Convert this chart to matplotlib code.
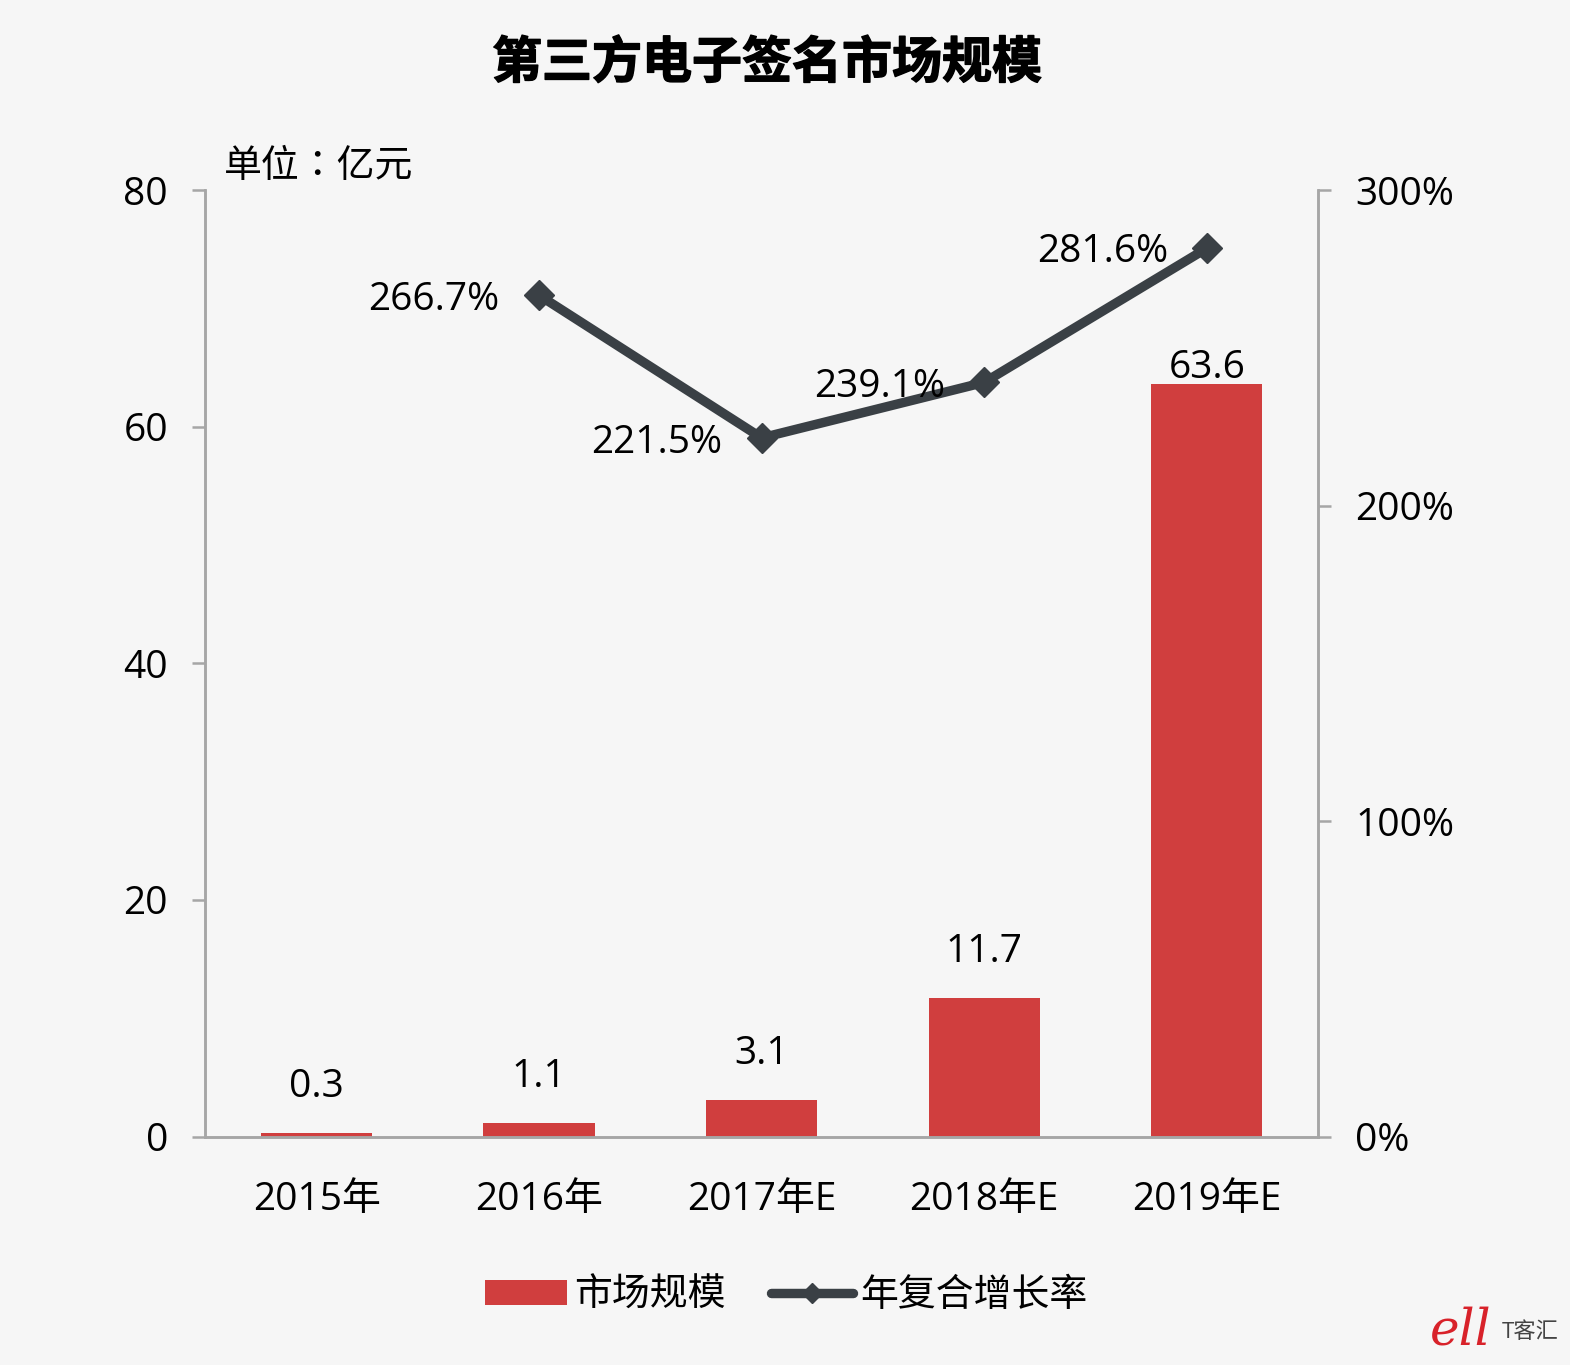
# -*- coding: utf-8 -*-
import matplotlib
matplotlib.use("Agg")
import matplotlib.pyplot as plt
import matplotlib.patheffects as pe
from matplotlib.lines import Line2D
from matplotlib.patches import Patch

plt.rcParams["font.family"] = ["Open Sans", "Noto Sans CJK SC", "DejaVu Sans"]

years = ["2015年", "2016年", "2017年E", "2018年E", "2019年E"]
market_size = [0.3, 1.1, 3.1, 11.7, 63.6]
growth = [None, 266.7, 221.5, 239.1, 281.6]
left_ticks = [0, 20, 40, 60, 80]
right_ticks = [0, 100, 200, 300]

RED = "#d03e3e"
DARK = "#3a4045"
GREY = "#a6a6a6"
BG = "#f6f6f6"
W, H = 1570, 1365
PX = 0.72  # 1 px in points at dpi=100
FS = 28

fig = plt.figure(figsize=(W / 100, H / 100), dpi=100, facecolor=BG)
ax = fig.add_axes([205.3 / W, 1 - 1136.5 / H, (1318 - 205.3) / W, (1136.5 - 190.3) / H])
ax.set_facecolor(BG)
xs = list(range(len(years)))
ax.bar(xs, market_size, width=0.5, color=RED, zorder=2)
ax.set_xlim(-0.5, 4.5)
ax.set_ylim(0, 80)
ax.set_yticks(left_ticks)
ax.set_xticks(xs)
ax.set_xticklabels(years)
ax.tick_params(axis="y", labelsize=FS, color=GREY, width=1.8, length=9.4, pad=17.5)
ax.tick_params(axis="x", labelsize=FS, length=0, pad=32)

ax2 = ax.twinx()
ax2.set_ylim(0, 300)
ax2.set_yticks(right_ticks)
ax2.set_yticklabels([f"{v}%" for v in right_ticks])
ax2.tick_params(axis="y", labelsize=FS, color=GREY, width=1.8, length=9.4, pad=17.5)
gx = xs[1:]
gy = growth[1:]
ax2.plot(gx, gy, color=DARK, lw=6.8, marker="D", ms=15, solid_capstyle="round", zorder=4)

for a in (ax, ax2):
    a.spines["top"].set_visible(False)
    for s in ("left", "right", "bottom"):
        a.spines[s].set_color(GREY)
        a.spines[s].set_linewidth(1.8)

bar_offsets = [46, 46, 46, 46, 16]
for x, v, off in zip(xs, market_size, bar_offsets):
    ax.annotate(f"{v}", (x, v), xytext=(0, off * PX), textcoords="offset points",
                ha="center", va="center", fontsize=FS, color="black", zorder=5)

growth_offsets = [(-105, -5), (-105, -5), (-105, -5), (-104, -4)]
for x, v, off in zip(gx, gy, growth_offsets):
    ax2.annotate(f"{v}%", (x, v), xytext=(off[0] * PX, off[1] * PX), textcoords="offset points",
                 ha="center", va="center", fontsize=FS, color="black", zorder=5)

title = fig.text(767 / W, 1 - 65 / H, "第三方电子签名市场规模", ha="center", va="center",
                 fontsize=36, fontweight="bold", color="black")
title.set_path_effects([pe.withStroke(linewidth=1.0, foreground="black")])
# TC 字形的全角冒号居中
fig.text(224 / W, 1 - 166 / H, "单位：亿元", ha="left", va="center", fontsize=27.3, color="black",
         family=["Noto Sans CJK TC", "DejaVu Sans"])

handles = [Patch(facecolor=RED, edgecolor="none"),
           Line2D([0], [0], color=DARK, lw=6.8, marker="D", ms=10, solid_capstyle="round")]
fig.legend(handles, ["市场规模", "年复合增长率"], loc="center", ncol=2, frameon=False,
           bbox_to_anchor=(786.5 / W, 1 - 1296 / H), fontsize=27.3, handlelength=2.15,
           handleheight=0.65, handletextpad=0.2, columnspacing=1.2,
           borderpad=0, borderaxespad=0)

# 右下角水印
fig.text(1492 / W, 1 - 1331 / H, "ell", ha="right", va="center", fontsize=36,
         color="#d8222a", style="italic", family="DejaVu Serif")
fig.text(1530 / W, 1 - 1333 / H, "T客汇", ha="center", va="center", fontsize=16, color="#444444")

fig.savefig("out.png", dpi=100, facecolor=BG)
